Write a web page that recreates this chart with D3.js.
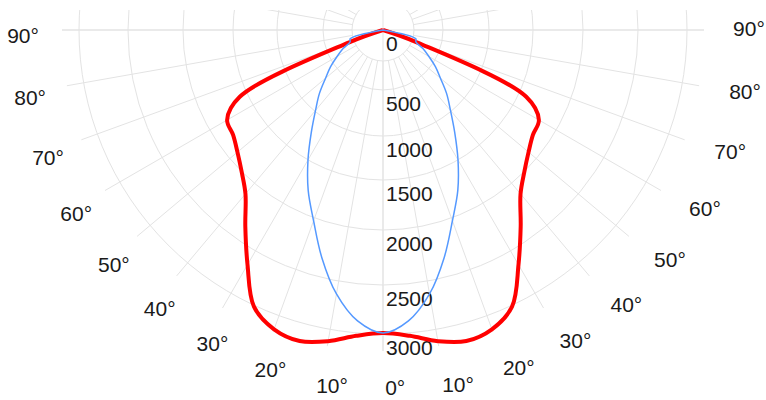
<!DOCTYPE html>
<html>
<head>
<meta charset="utf-8">
<script src="https://cdn.jsdelivr.net/npm/d3@7/dist/d3.min.js"></script>
<style>
  body { margin: 0; background: #fff; }
  svg { display: block; font-family: "Liberation Sans", Arial, sans-serif; }
  .grid line, .grid circle { stroke: #e3e3e3; stroke-width: 1; fill: none; }
  .label { fill: #1a1a1a; font-size: 21px; }
</style>
</head>
<body>
<div id="chart"></div>
<script>
// Gamma angles in degrees, measured from straight down (nadir).
var gammaAngles = [0, 5, 10, 15, 20, 25, 30, 35, 40, 45, 50, 55, 60, 65, 70, 75, 80, 85, 90];

// Luminous intensity (cd) for the C0/C180 plane (red).
var planeC0 = [2990, 3030, 3120, 3180, 3145, 3013, 2663, 2364, 2127, 2000,
               1900, 1830, 1800, 1580, 300, 0, 0, 0, 0];

// Luminous intensity (cd) for the C90/C270 plane (blue).
var planeC90 = [2990, 2878, 2633, 2327, 2027, 1770, 1500, 1216, 989, 826,
                663, 543, 442, 367, 292, 283, 0, 0, 0];

// Radial tick values and the end of the radial axis.
var radiusTicks = [0, 500, 1000, 1500, 2000, 2500, 3000];
var radiusMax = 3170;

// Angle labels, shown on both sides.
var angleTicks = [0, 10, 20, 30, 40, 50, 60, 70, 80, 90];

;(function() {
  'use strict';

  var width = 766, height = 400;
  var cx = 383, cy = 30;       // pole of the diagram
  var holeR = 31;              // spokes start here
  var labelRx = 363, labelRy = 358;  // where the angle labels sit
  var fontSize = 21;
  // Lowest baseline that still keeps descenders inside the picture.
  var maxBaseline = height - cy - 0.25 * fontSize;

  var rad = Math.PI / 180;

  // The picture's rings are not evenly spaced, so use a polylinear scale.
  var rScale = d3.scaleLinear()
      .domain(radiusTicks.concat([radiusMax]))
      .range([0, 60, 106, 150, 200, 255, 304, 321]);

  var svg = d3.select('#chart').append('svg')
      .attr('width', width)
      .attr('height', height);

  var defs = svg.append('defs');
  defs.append('clipPath').attr('id', 'gridClip')
    .append('rect')
      .attr('x', -cx).attr('y', 10 - cy)
      .attr('width', width).attr('height', height);

  var inner = svg.append('g').attr('transform', translation(cx, cy));

  // Grid: rings and spokes, clipped at the top.
  var grid = inner.append('g')
      .classed('grid', true)
      .attr('clip-path', 'url(#gridClip)');

  grid.selectAll('circle.ring')
      .data(radiusTicks.filter(function(d) { return d > 0; }))
    .enter().append('circle')
      .classed('ring', true)
      .attr('r', function(d) { return rScale(d); });

  grid.append('circle').attr('r', holeR);

  grid.selectAll('line.spoke')
      .data(d3.range(0, 360, 10))
    .enter().append('line')
      .classed('spoke', true)
      .attr('x1', function(d) { return holeR * Math.sin(d * rad); })
      .attr('y1', function(d) { return holeR * Math.cos(d * rad); })
      .attr('x2', function(d) { return rScale(radiusMax) * Math.sin(d * rad); })
      .attr('y2', function(d) { return rScale(radiusMax) * Math.cos(d * rad); });

  // Axis lines go right through the pole.
  grid.append('line')
      .attr('x1', -rScale(radiusMax)).attr('x2', rScale(radiusMax))
      .attr('y1', 0).attr('y2', 0);
  grid.append('line')
      .attr('x1', 0).attr('x2', 0)
      .attr('y1', -rScale(radiusMax)).attr('y2', rScale(radiusMax));

  // Radial tick labels, just below each ring.
  inner.selectAll('text.rlabel')
      .data(radiusTicks)
    .enter().append('text')
      .attr('class', 'label rlabel')
      .attr('x', 3)
      .attr('y', function(d) { return rScale(d) + 21; })
      .text(function(d) { return d; });

  // Angle labels on both sides (the ring of labels is turned a little).
  var angleLabels = [];
  angleTicks.forEach(function(a) {
    angleLabels.push({a: a, side: 1});
    if (a > 0) angleLabels.push({a: a, side: -1});
  });

  function labelAngle(d) { return (d.a + d.side * 0.5) * rad; }

  inner.selectAll('text.alabel')
      .data(angleLabels)
    .enter().append('text')
      .attr('class', 'label alabel')
      .attr('text-anchor', 'middle')
      .attr('x', function(d) {
        return d.side * labelRx * Math.sin(labelAngle(d)) + 3 + 6 * Math.cos(d.a * rad);
      })
      .attr('y', function(d) {
        var y = labelRy * Math.cos(labelAngle(d)) + 2 + 0.36 * fontSize;
        return Math.min(y, maxBaseline);
      })
      .text(function(d) { return d.a + '\u00B0'; });

  // Curves: right half (C0 / C90) then mirrored left half.
  var line = d3.lineRadial()
      .angle(function(d) { return d.angle; })
      .radius(function(d) { return rScale(d.value); })
      .curve(d3.curveCatmullRomClosed.alpha(0.5));

  function planePoints(values) {
    var pts = [];
    for (var i = gammaAngles.length - 1; i >= 0; i--) {
      pts.push({angle: Math.PI - gammaAngles[i] * rad, value: values[i]});
    }
    for (var j = 1; j < gammaAngles.length; j++) {
      pts.push({angle: Math.PI + gammaAngles[j] * rad, value: values[j]});
    }
    return pts;
  }

  inner.append('path')
      .datum(planePoints(planeC0))
      .attr('d', line)
      .attr('fill', 'none')
      .attr('stroke', '#ff0000')
      .attr('stroke-width', 4)
      .attr('stroke-linejoin', 'round');

  inner.append('path')
      .datum(planePoints(planeC90))
      .attr('d', line)
      .attr('fill', 'none')
      .attr('stroke', '#5599ff')
      .attr('stroke-width', 1.5)
      .attr('stroke-linejoin', 'round');

  /**
   * Utility function to save manually writing translate().
   */
  function translation(x, y) {
    return 'translate(' + x + ',' + y + ')';
  }

}());
</script>
</body>
</html>
